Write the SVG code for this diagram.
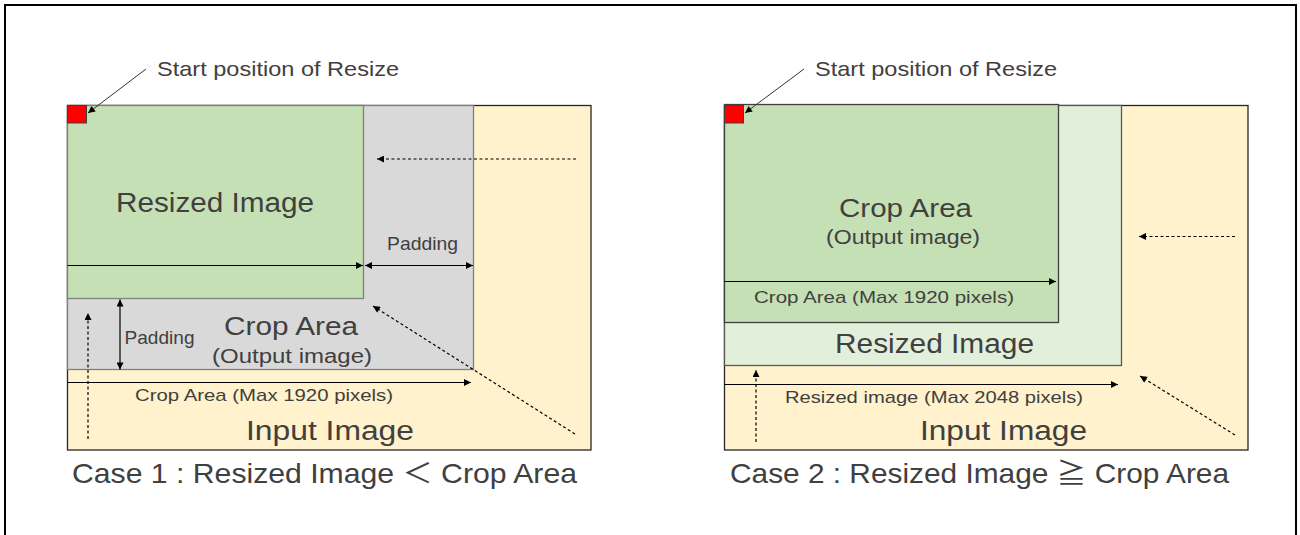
<svg xmlns="http://www.w3.org/2000/svg" width="1300" height="535" viewBox="0 0 1300 535">
<defs>
<style>
.t{font-family:"Liberation Sans",Arial,"Noto Sans CJK JP",sans-serif;fill:#404040;}
.ln{stroke:#000;stroke-width:1.2;fill:none;}
.dl{stroke:#000;stroke-width:1.2;fill:none;stroke-dasharray:3 2.5;}
.pt{stroke:#333;stroke-width:1;fill:none;}
.inp{fill:#FFF2CC;stroke:#262626;stroke-width:1.3;}
.gry{fill:#D9D9D9;stroke:#7F7F7F;stroke-width:1.3;}
.grn{fill:#C5E0B4;stroke:#7F7F7F;stroke-width:1.3;}
.grn2{fill:#C5E0B4;stroke:#404040;stroke-width:1.3;}
.lgr{fill:#E2EFDA;stroke:#595959;stroke-width:1.3;}
.red{fill:#FF0000;stroke:#404040;stroke-width:1;}
</style>
<marker id="ah" viewBox="0 0 10 10" refX="10" refY="5" markerWidth="9" markerHeight="7" markerUnits="userSpaceOnUse" orient="auto-start-reverse">
<path d="M0,0 L10,5 L0,10 z" fill="#000"/>
</marker>
</defs>
<rect width="1300" height="535" fill="#fff"/>
<path d="M5,540 V5 H1296 V540" fill="none" stroke="#000" stroke-width="2"/>

<g id="case1">
<g id="c1-input"><rect class="inp" x="67.5" y="105.5" width="523.5" height="344.5"/></g>
<g id="c1-crop"><rect class="gry" x="67.5" y="105.5" width="406" height="264"/></g>
<g id="c1-resized"><rect class="grn" x="67.5" y="105.5" width="296" height="193"/></g>
<g id="c1-start"><rect class="red" x="67.5" y="105.5" width="19" height="17.5"/></g>
<g id="c1-connectors">
<line class="pt" x1="146" y1="69" x2="88" y2="113" marker-end="url(#ah)"/>
<line class="ln" x1="67.5" y1="265.5" x2="363" y2="265.5" marker-end="url(#ah)"/>
<line class="ln" x1="365" y1="265.5" x2="473" y2="265.5" marker-start="url(#ah)" marker-end="url(#ah)"/>
<line class="ln" x1="120" y1="299.5" x2="120" y2="369.5" marker-start="url(#ah)" marker-end="url(#ah)"/>
<line class="dl" x1="88" y1="439" x2="88" y2="313" marker-end="url(#ah)"/>
<line class="ln" x1="67.5" y1="382.5" x2="471" y2="382.5" marker-end="url(#ah)"/>
<line class="dl" x1="576" y1="159" x2="377" y2="159" marker-end="url(#ah)"/>
<line class="dl" x1="575" y1="434" x2="373" y2="306" marker-end="url(#ah)"/>
</g>
<g id="c1-texts">
<text class="t" x="157" y="76" font-size="21" textLength="242" lengthAdjust="spacingAndGlyphs">Start position of Resize</text>
<text class="t" x="116" y="212" font-size="27" textLength="198" lengthAdjust="spacingAndGlyphs">Resized Image</text>
<text class="t" x="387" y="250" font-size="19" textLength="71" lengthAdjust="spacingAndGlyphs">Padding</text>
<text class="t" x="124.5" y="343.5" font-size="19" textLength="70" lengthAdjust="spacingAndGlyphs">Padding</text>
<text class="t" x="224" y="335" font-size="26" textLength="134" lengthAdjust="spacingAndGlyphs">Crop Area</text>
<text class="t" x="212" y="363" font-size="20" textLength="160" lengthAdjust="spacingAndGlyphs">(Output image)</text>
<text class="t" x="135" y="401" font-size="17" textLength="258" lengthAdjust="spacingAndGlyphs">Crop Area (Max 1920 pixels)</text>
<text class="t" x="246" y="439.5" font-size="27" textLength="168" lengthAdjust="spacingAndGlyphs">Input Image</text>
<text class="t" x="72" y="483" font-size="27.5" textLength="505" lengthAdjust="spacingAndGlyphs">Case 1 : Resized Image ＜ Crop Area</text>
</g>
</g>

<g id="case2">
<g id="c2-input"><rect class="inp" x="724.5" y="105.5" width="523.5" height="344.5"/></g>
<g id="c2-resized"><rect class="lgr" x="724.5" y="105.5" width="397" height="260"/></g>
<g id="c2-crop"><rect class="grn2" x="724.5" y="104.5" width="334" height="218"/></g>
<g id="c2-start"><rect class="red" x="724.5" y="105.5" width="19" height="17.5"/></g>
<g id="c2-connectors">
<line class="pt" x1="804" y1="69" x2="745" y2="113" marker-end="url(#ah)"/>
<line class="ln" x1="724.5" y1="281.5" x2="1056" y2="281.5" marker-end="url(#ah)"/>
<line class="dl" x1="1235" y1="236.5" x2="1139" y2="236.5" marker-end="url(#ah)"/>
<line class="ln" x1="724" y1="384.5" x2="1118" y2="384.5" marker-end="url(#ah)"/>
<line class="dl" x1="756" y1="442" x2="756" y2="370" marker-end="url(#ah)"/>
<line class="dl" x1="1235" y1="435" x2="1140" y2="376" marker-end="url(#ah)"/>
</g>
<g id="c2-texts">
<text class="t" x="815" y="76" font-size="21" textLength="242" lengthAdjust="spacingAndGlyphs">Start position of Resize</text>
<text class="t" x="839" y="216.5" font-size="26" textLength="133" lengthAdjust="spacingAndGlyphs">Crop Area</text>
<text class="t" x="826" y="244" font-size="20" textLength="154" lengthAdjust="spacingAndGlyphs">(Output image)</text>
<text class="t" x="754" y="303" font-size="17" textLength="260" lengthAdjust="spacingAndGlyphs">Crop Area (Max 1920 pixels)</text>
<text class="t" x="835" y="352.5" font-size="27" textLength="199" lengthAdjust="spacingAndGlyphs">Resized Image</text>
<text class="t" x="785" y="402.5" font-size="17" textLength="298" lengthAdjust="spacingAndGlyphs">Resized image (Max 2048 pixels)</text>
<text class="t" x="920" y="439.5" font-size="27" textLength="167" lengthAdjust="spacingAndGlyphs">Input Image</text>
<text class="t" x="730" y="483" font-size="27.5" textLength="499" lengthAdjust="spacingAndGlyphs">Case 2 : Resized Image ≧ Crop Area</text>
</g>
</g>
</svg>
